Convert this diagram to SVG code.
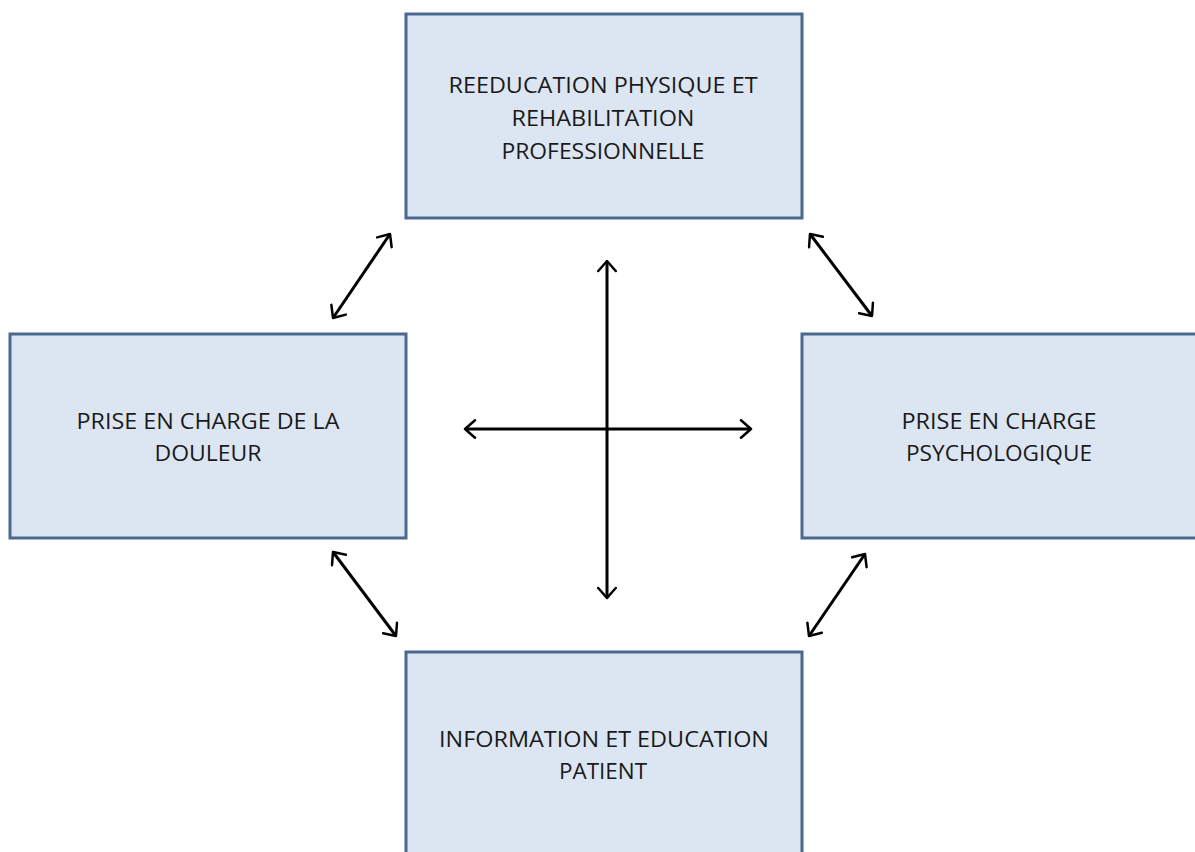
<svg xmlns="http://www.w3.org/2000/svg" width="1195" height="852" viewBox="0 0 1195 852">
<style>
.box{fill:#dce6f2;stroke:#4a6890;stroke-width:3}
.t{font-family:"Open Sans","Liberation Sans",sans-serif;font-size:21px;fill:#1a1a1a;text-anchor:middle}
.c{stroke:#000;stroke-width:3;fill:none;marker-start:url(#ah);marker-end:url(#ah)}
</style>
<defs>
<marker id="ah" viewBox="0 0 12 16" refX="10" refY="8" markerWidth="5" markerHeight="6.667" orient="auto-start-reverse" markerUnits="strokeWidth">
<path d="M2,1 L10,8 L2,15" fill="none" stroke="#000" stroke-width="2" stroke-linecap="round" stroke-linejoin="round"/>
</marker>
</defs>
<rect width="1195" height="852" fill="#fff"/>
<g id="top">
<rect class="box" x="406" y="14" width="396" height="204"/>
<text class="t" x="603" y="93" textLength="309" lengthAdjust="spacingAndGlyphs">REEDUCATION PHYSIQUE  ET</text>
<text class="t" x="603" y="126" textLength="183" lengthAdjust="spacingAndGlyphs">REHABILITATION</text>
<text class="t" x="603" y="159" textLength="203" lengthAdjust="spacingAndGlyphs">PROFESSIONNELLE</text>
</g>
<g id="left">
<rect class="box" x="10" y="334" width="396" height="204"/>
<text class="t" x="208" y="429" textLength="263" lengthAdjust="spacingAndGlyphs">PRISE EN CHARGE DE LA</text>
<text class="t" x="208" y="461" textLength="107" lengthAdjust="spacingAndGlyphs">DOULEUR</text>
</g>
<g id="right">
<rect class="box" x="802" y="334" width="400" height="204"/>
<text class="t" x="999" y="429" textLength="195" lengthAdjust="spacingAndGlyphs">PRISE EN CHARGE</text>
<text class="t" x="999" y="461" textLength="186" lengthAdjust="spacingAndGlyphs">PSYCHOLOGIQUE</text>
</g>
<g id="bottom">
<rect class="box" x="406" y="652" width="396" height="210"/>
<text class="t" x="604" y="747" textLength="330" lengthAdjust="spacingAndGlyphs">INFORMATION ET EDUCATION</text>
<text class="t" x="603" y="779" textLength="88" lengthAdjust="spacingAndGlyphs">PATIENT</text>
</g>
<g id="connectors">
<line class="c" x1="390" y1="234" x2="333" y2="318"/>
<line class="c" x1="810" y1="234" x2="872" y2="316"/>
<line class="c" x1="333" y1="552" x2="396" y2="636"/>
<line class="c" x1="865" y1="554" x2="809" y2="636"/>
<line class="c" x1="607" y1="261" x2="607" y2="598"/>
<line class="c" x1="465" y1="429" x2="751" y2="429"/>
</g>
</svg>
